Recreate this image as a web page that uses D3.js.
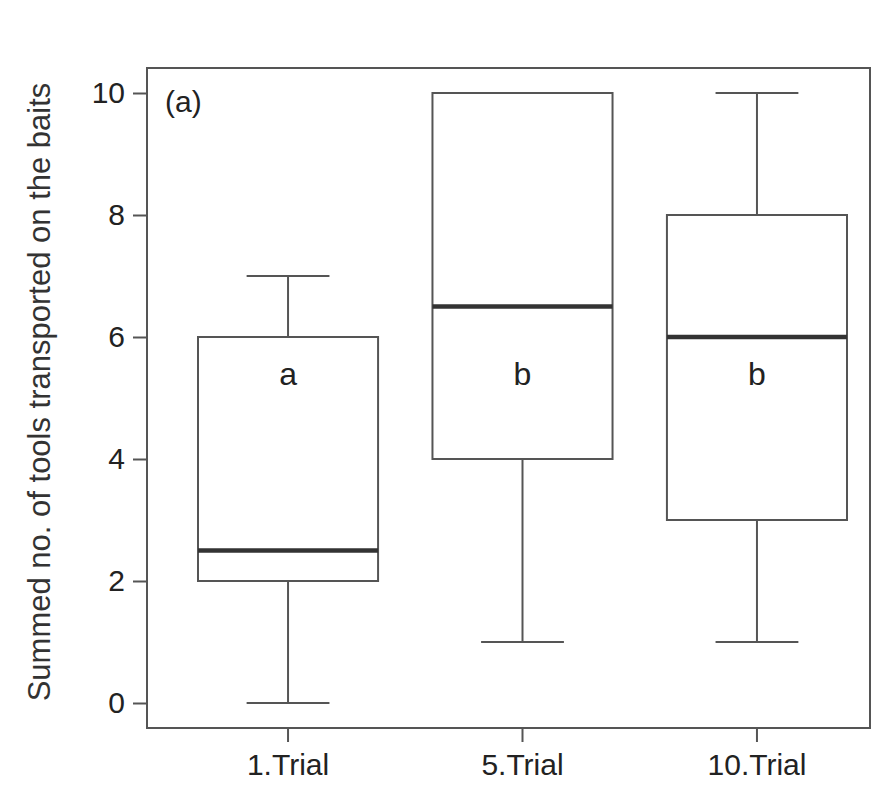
<!DOCTYPE html>
<html><head><meta charset="utf-8">
<script src="https://cdn.jsdelivr.net/npm/d3@7"></script>
<style>body{margin:0;background:#fff}</style>
</head><body>
<svg id="c" width="896" height="795"></svg>
<script>
const categories = ["1.Trial", "5.Trial", "10.Trial"];
const mins    = [0, 1, 1];
const q1s     = [2, 4, 3];
const medians = [2.5, 6.5, 6];
const q3s     = [6, 10, 8];
const maxs    = [7, 10, 10];
const letters = ["a", "b", "b"];
const yTicks  = [0, 2, 4, 6, 8, 10];

const svg = d3.select("#c");
const frame = {left: 147, right: 870, top: 68, bottom: 728};
const y = d3.scaleLinear().domain([0, 10]).range([703, 93]);
const x = d3.scaleBand().domain(categories).range([198, 847]).paddingInner(0.232).paddingOuter(0);
const ink = "#555";
const font = "Liberation Sans, Arial";

svg.append("rect").attr("x", frame.left).attr("y", frame.top)
  .attr("width", frame.right - frame.left).attr("height", frame.bottom - frame.top)
  .attr("fill", "none").attr("stroke", ink).attr("stroke-width", 2);

const yAxis = svg.append("g").attr("transform", `translate(${frame.left},0)`)
  .call(d3.axisLeft(y).tickValues(yTicks).tickSize(14).tickPadding(8));
yAxis.select(".domain").remove();
yAxis.selectAll("line").attr("stroke", ink).attr("stroke-width", 2);
yAxis.selectAll("text").attr("font-family", font).attr("font-size", 30).attr("fill", "#222");

const xAxis = svg.append("g").attr("transform", `translate(0,${frame.bottom})`)
  .call(d3.axisBottom(x).tickSize(14).tickPadding(12));
xAxis.select(".domain").remove();
xAxis.selectAll("line").attr("stroke", ink).attr("stroke-width", 2);
xAxis.selectAll("text").attr("font-family", font).attr("font-size", 30).attr("fill", "#222");

const bw = x.bandwidth();
categories.forEach((c, i) => {
  const cx = x(c) + bw / 2;
  const g = svg.append("g").attr("stroke", ink).attr("stroke-width", 2).attr("fill", "none");
  g.append("line").attr("x1", cx).attr("x2", cx).attr("y1", y(maxs[i])).attr("y2", y(q3s[i]));
  g.append("line").attr("x1", cx).attr("x2", cx).attr("y1", y(q1s[i])).attr("y2", y(mins[i]));
  [mins[i], maxs[i]].forEach(v => g.append("line")
    .attr("x1", cx - bw * 0.23).attr("x2", cx + bw * 0.23).attr("y1", y(v)).attr("y2", y(v)));
  g.append("rect").attr("x", x(c)).attr("width", bw)
    .attr("y", y(q3s[i])).attr("height", y(q1s[i]) - y(q3s[i]));
  svg.append("line").attr("x1", x(c)).attr("x2", x(c) + bw)
    .attr("y1", y(medians[i])).attr("y2", y(medians[i]))
    .attr("stroke", "#333").attr("stroke-width", 4.5);
  svg.append("text").attr("x", cx).attr("y", y(5.4)).attr("text-anchor", "middle")
    .attr("dy", "0.35em").attr("font-family", font).attr("font-size", 32)
    .attr("fill", "#222").text(letters[i]);
});

svg.append("text").attr("x", 165).attr("y", 112).attr("font-family", font)
  .attr("font-size", 30).attr("fill", "#222").text("(a)");

svg.append("text").attr("transform", "translate(50,392) rotate(-90)").attr("text-anchor", "middle")
  .attr("font-family", font).attr("font-size", 31).attr("fill", "#333")
  .text("Summed no. of tools transported on the baits");
</script>
</body></html>
